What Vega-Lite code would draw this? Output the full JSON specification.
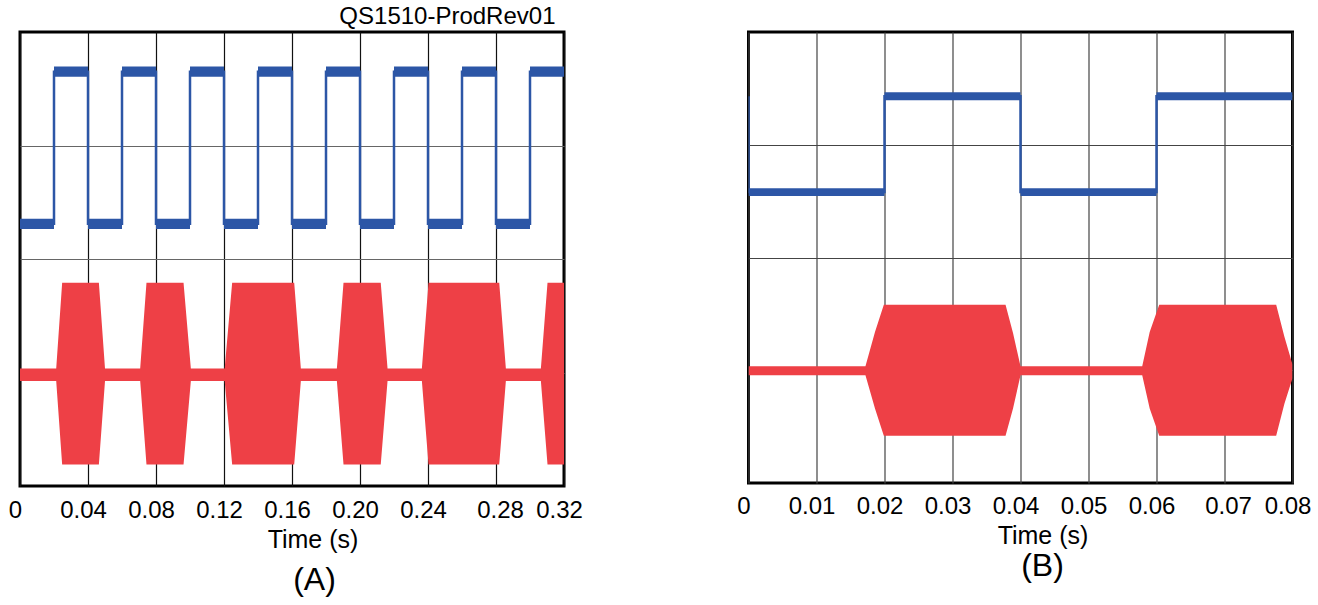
{
  "$schema": "https://vega.github.io/schema/vega-lite/v6.json",
  "padding": {"left": 6, "top": 4, "right": 5, "bottom": 5},
  "background": "white",
  "config": {
    "font": "Liberation Sans",
    "view": {"stroke": "#000", "strokeWidth": 3},
    "axisX": {"grid": true, "ticks": false, "tickSize": 0, "domain": false, "labelFont": "Liberation Sans", "labelFontSize": 24, "labelColor": "#000", "labelFlush": false, "labelOverlap": false, "labelBound": false, "titleFont": "Liberation Sans", "titleFontSize": 25, "titleFontWeight": "normal", "titleColor": "#000", "gridWidth": 1.2},
    "axisY": {"grid": true, "ticks": false, "domain": false, "labels": false, "gridWidth": 1.2}
  },
  "title": {"text": "QS1510-ProdRev01", "anchor": "start", "frame": "group", "align": "right", "dx": 535.5, "fontSize": 24, "fontWeight": "normal", "font": "Liberation Sans", "color": "#000", "offset": 2},
  "bounds": "flush",
  "spacing": 184.5,
  "datasets": {
    "blueA_line": [
      {"i": 0, "t": 0, "v": 2.31}, {"i": 1, "t": 0.02, "v": 3.65}, {"i": 2, "t": 0.04, "v": 2.31}, {"i": 3, "t": 0.06, "v": 3.65},
      {"i": 4, "t": 0.08, "v": 2.31}, {"i": 5, "t": 0.10, "v": 3.65}, {"i": 6, "t": 0.12, "v": 2.31}, {"i": 7, "t": 0.14, "v": 3.65},
      {"i": 8, "t": 0.16, "v": 2.31}, {"i": 9, "t": 0.18, "v": 3.65}, {"i": 10, "t": 0.20, "v": 2.31}, {"i": 11, "t": 0.22, "v": 3.65},
      {"i": 12, "t": 0.24, "v": 2.31}, {"i": 13, "t": 0.26, "v": 3.65}, {"i": 14, "t": 0.28, "v": 2.31}, {"i": 15, "t": 0.30, "v": 3.65},
      {"i": 16, "t": 0.32, "v": 3.65}
    ],
    "blueA_band": [
      {"t0": 0, "t1": 0.02, "lo": 2.265, "hi": 2.355}, {"t0": 0.02, "t1": 0.04, "lo": 3.605, "hi": 3.695},
      {"t0": 0.04, "t1": 0.06, "lo": 2.265, "hi": 2.355}, {"t0": 0.06, "t1": 0.08, "lo": 3.605, "hi": 3.695},
      {"t0": 0.08, "t1": 0.10, "lo": 2.265, "hi": 2.355}, {"t0": 0.10, "t1": 0.12, "lo": 3.605, "hi": 3.695},
      {"t0": 0.12, "t1": 0.14, "lo": 2.265, "hi": 2.355}, {"t0": 0.14, "t1": 0.16, "lo": 3.605, "hi": 3.695},
      {"t0": 0.16, "t1": 0.18, "lo": 2.265, "hi": 2.355}, {"t0": 0.18, "t1": 0.20, "lo": 3.605, "hi": 3.695},
      {"t0": 0.20, "t1": 0.22, "lo": 2.265, "hi": 2.355}, {"t0": 0.22, "t1": 0.24, "lo": 3.605, "hi": 3.695},
      {"t0": 0.24, "t1": 0.26, "lo": 2.265, "hi": 2.355}, {"t0": 0.26, "t1": 0.28, "lo": 3.605, "hi": 3.695},
      {"t0": 0.28, "t1": 0.30, "lo": 2.265, "hi": 2.355}, {"t0": 0.30, "t1": 0.32, "lo": 3.605, "hi": 3.695}
    ],
    "redA": [
      {"t": 0, "lo": 0.925, "hi": 1.035}, {"t": 0.0213, "lo": 0.925, "hi": 1.035}, {"t": 0.0248, "lo": 0.19, "hi": 1.79}, {"t": 0.0464, "lo": 0.19, "hi": 1.79}, {"t": 0.0500, "lo": 0.925, "hi": 1.035},
      {"t": 0.0707, "lo": 0.925, "hi": 1.035}, {"t": 0.0744, "lo": 0.19, "hi": 1.79}, {"t": 0.0962, "lo": 0.19, "hi": 1.79}, {"t": 0.1005, "lo": 0.925, "hi": 1.035},
      {"t": 0.1204, "lo": 0.925, "hi": 1.035}, {"t": 0.1248, "lo": 0.19, "hi": 1.79}, {"t": 0.1613, "lo": 0.19, "hi": 1.79}, {"t": 0.1652, "lo": 0.925, "hi": 1.035},
      {"t": 0.1864, "lo": 0.925, "hi": 1.035}, {"t": 0.1903, "lo": 0.19, "hi": 1.79}, {"t": 0.2122, "lo": 0.19, "hi": 1.79}, {"t": 0.2162, "lo": 0.925, "hi": 1.035},
      {"t": 0.2364, "lo": 0.925, "hi": 1.035}, {"t": 0.2403, "lo": 0.19, "hi": 1.79}, {"t": 0.2819, "lo": 0.19, "hi": 1.79}, {"t": 0.2858, "lo": 0.925, "hi": 1.035},
      {"t": 0.3064, "lo": 0.925, "hi": 1.035}, {"t": 0.3103, "lo": 0.19, "hi": 1.79}, {"t": 0.32, "lo": 0.19, "hi": 1.79}
    ],
    "blueB_line": [
      {"i": 0, "t": 0, "v": 3.43}, {"i": 1, "t": 0, "v": 2.58}, {"i": 2, "t": 0.02, "v": 3.43}, {"i": 3, "t": 0.04, "v": 2.58},
      {"i": 4, "t": 0.06, "v": 3.43}, {"i": 5, "t": 0.08, "v": 3.43}
    ],
    "blueB_band": [
      {"t0": 0, "t1": 0.02, "lo": 2.545, "hi": 2.615}, {"t0": 0.02, "t1": 0.04, "lo": 3.395, "hi": 3.465},
      {"t0": 0.04, "t1": 0.06, "lo": 2.545, "hi": 2.615}, {"t0": 0.06, "t1": 0.08, "lo": 3.395, "hi": 3.465}
    ],
    "redB": [
      {"t": 0, "lo": 0.955, "hi": 1.035}, {"t": 0.0172, "lo": 0.955, "hi": 1.035}, {"t": 0.0186, "lo": 0.66, "hi": 1.34}, {"t": 0.0199, "lo": 0.42, "hi": 1.58},
      {"t": 0.0378, "lo": 0.42, "hi": 1.58}, {"t": 0.0389, "lo": 0.66, "hi": 1.33}, {"t": 0.0400, "lo": 0.955, "hi": 1.035},
      {"t": 0.0579, "lo": 0.955, "hi": 1.035}, {"t": 0.0590, "lo": 0.66, "hi": 1.34}, {"t": 0.0604, "lo": 0.42, "hi": 1.58},
      {"t": 0.0776, "lo": 0.42, "hi": 1.58}, {"t": 0.0788, "lo": 0.70, "hi": 1.30}, {"t": 0.0800, "lo": 0.93, "hi": 1.05}
    ]
  },
  "hconcat": [
    {
      "width": 544,
      "height": 454,
      "title": {"text": "(A)", "orient": "bottom", "anchor": "middle", "frame": "group", "fontSize": 32, "fontWeight": "normal", "font": "Liberation Sans", "color": "#000", "dx": 22.5, "offset": 13},
      "layer": [
        {
          "data": {"name": "blueA_band"},
          "mark": {"type": "rect", "color": "#2C56A6", "clip": true},
          "encoding": {
            "x": {"field": "t0", "type": "quantitative", "title": "Time (s)", "scale": {"domain": [0, 0.32], "nice": false, "zero": false},
              "axis": {"values": [0, 0.04, 0.08, 0.12, 0.16, 0.2, 0.24, 0.28, 0.32], "labelExpr": "datum.value == 0 ? '0' : format(datum.value, '.2f')", "labelOffset": {"condition": {"test": "abs(datum.value - 0.28) < 0.001", "value": 4}, "value": -5}, "labelPadding": 12, "titlePadding": 5, "titleX": 292.5, "gridColor": "#111"}},
            "x2": {"field": "t1"},
            "y": {"field": "lo", "type": "quantitative", "title": null, "scale": {"domain": [0, 4], "nice": false, "zero": false}, "axis": {"values": [1, 2, 3], "gridColor": "#666"}},
            "y2": {"field": "hi"}
          }
        },
        {
          "data": {"name": "blueA_line"},
          "mark": {"type": "line", "color": "#2C56A6", "strokeWidth": 2.5, "interpolate": "step-after", "clip": true},
          "encoding": {
            "x": {"field": "t", "type": "quantitative", "title": "Time (s)", "scale": {"domain": [0, 0.32], "nice": false, "zero": false}},
            "y": {"field": "v", "type": "quantitative", "title": null, "scale": {"domain": [0, 4], "nice": false, "zero": false}},
            "order": {"field": "i", "type": "quantitative"}
          }
        },
        {
          "data": {"name": "redA"},
          "mark": {"type": "area", "color": "#EE4046", "opacity": 1, "clip": true},
          "encoding": {
            "x": {"field": "t", "type": "quantitative", "title": "Time (s)", "scale": {"domain": [0, 0.32], "nice": false, "zero": false}},
            "y": {"field": "hi", "type": "quantitative", "title": null, "scale": {"domain": [0, 4], "nice": false, "zero": false}},
            "y2": {"field": "lo"}
          }
        }
      ]
    },
    {
      "width": 544,
      "height": 451,
      "title": {"text": "(B)", "orient": "bottom", "anchor": "middle", "frame": "group", "fontSize": 32, "fontWeight": "normal", "font": "Liberation Sans", "color": "#000", "dx": 22, "offset": 3},
      "layer": [
        {
          "data": {"name": "blueB_band"},
          "mark": {"type": "rect", "color": "#2C56A6", "clip": true},
          "encoding": {
            "x": {"field": "t0", "type": "quantitative", "title": "Time (s)", "scale": {"domain": [0, 0.08], "nice": false, "zero": false},
              "axis": {"values": [0, 0.01, 0.02, 0.03, 0.04, 0.05, 0.06, 0.07, 0.08], "labelExpr": "datum.value == 0 ? '0' : format(datum.value, '.2f')", "labelOffset": {"condition": {"test": "abs(datum.value - 0.07) < 0.001", "value": 3.5}, "value": -5}, "labelPadding": 11, "titlePadding": 5, "titleX": 294, "gridColor": "#444"}},
            "x2": {"field": "t1"},
            "y": {"field": "lo", "type": "quantitative", "title": null, "scale": {"domain": [0, 4], "nice": false, "zero": false}, "axis": {"values": [1, 2, 3], "gridColor": "#444"}},
            "y2": {"field": "hi"}
          }
        },
        {
          "data": {"name": "blueB_line"},
          "mark": {"type": "line", "color": "#2C56A6", "strokeWidth": 2.5, "interpolate": "step-after", "clip": true},
          "encoding": {
            "x": {"field": "t", "type": "quantitative", "title": "Time (s)", "scale": {"domain": [0, 0.08], "nice": false, "zero": false}},
            "y": {"field": "v", "type": "quantitative", "title": null, "scale": {"domain": [0, 4], "nice": false, "zero": false}},
            "order": {"field": "i", "type": "quantitative"}
          }
        },
        {
          "data": {"name": "redB"},
          "mark": {"type": "area", "color": "#EE4046", "opacity": 1, "clip": true},
          "encoding": {
            "x": {"field": "t", "type": "quantitative", "title": "Time (s)", "scale": {"domain": [0, 0.08], "nice": false, "zero": false}},
            "y": {"field": "hi", "type": "quantitative", "title": null, "scale": {"domain": [0, 4], "nice": false, "zero": false}},
            "y2": {"field": "lo"}
          }
        }
      ]
    }
  ]
}
